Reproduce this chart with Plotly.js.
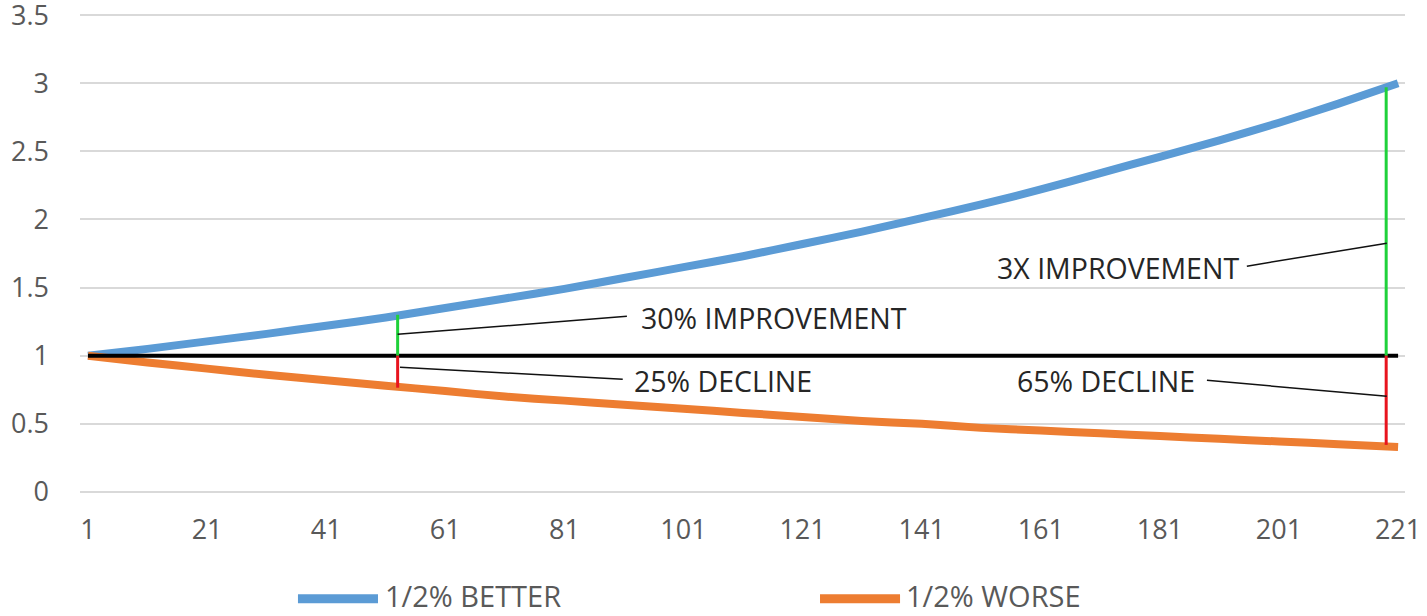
<!DOCTYPE html>
<html>
<head>
<meta charset="utf-8">
<script src="https://cdn.plot.ly/plotly-3.0.1.min.js"></script>
<style>
  html, body { margin: 0; padding: 0; background: #ffffff; }
  #chart { width: 1427px; height: 616px; }
</style>
</head>
<body>
<div id="chart"></div>
<script>
// ---- data ----
const periods = [1, 11, 21, 31, 41, 51, 61, 71, 81, 91, 101, 111, 121, 131, 141, 151, 161, 171, 181, 191, 201, 211, 221];
const betterValues = [1.00, 1.05, 1.105, 1.16, 1.22, 1.28, 1.35, 1.42, 1.49, 1.57, 1.65, 1.73, 1.82, 1.91, 2.01, 2.11, 2.22, 2.34, 2.46, 2.58, 2.71, 2.85, 3.00];
const worseValues  = [1.00, 0.95, 0.905, 0.86, 0.82, 0.78, 0.74, 0.70, 0.67, 0.64, 0.61, 0.58, 0.55, 0.52, 0.50, 0.47, 0.45, 0.43, 0.41, 0.39, 0.37, 0.35, 0.33];
const baselineX = [1, 221];
const baselineY = [1, 1];
const seriesNames = ["1/2% BETTER", "1/2% WORSE"];
const xTickVals = [1, 21, 41, 61, 81, 101, 121, 141, 161, 181, 201, 221];
const yTickVals = [0, 0.5, 1, 1.5, 2, 2.5, 3, 3.5];
const yTickText = ["0", "0.5", "1", "1.5", "2", "2.5", "3", "3.5"];

// comparison markers: [period, top/bottom value]
const markerPeriods = [53, 219];
const markerUp = [1.30, 2.97];
const markerDown = [0.765, 0.345];
const calloutTexts = ["30% IMPROVEMENT", "25% DECLINE", "3X IMPROVEMENT", "65% DECLINE"];
// callout leader lines: from point on marker to label
const leaderFromX = [53, 53.4, 219.1, 219.1];
const leaderFromY = [1.157, 0.915, 1.826, 0.702];
const leaderToX = [91.5, 90.8, 195.6, 188.9];
const leaderToY = [1.289, 0.827, 1.657, 0.819];
const labelX = [93.6, 92.4, 194.6, 187.3];
const labelY = [1.274, 0.812, 1.642, 0.812];
const labelAnchor = ["left", "left", "right", "right"];

const BLUE = "#5B9BD5", ORANGE = "#ED7D31";
const FONT = "Open Sans, Noto Sans, DejaVu Sans, sans-serif";
const TICK_SIZE = 27, TICK_COLOR = "#595959";

const traces = [
  { x: periods, y: betterValues, name: seriesNames[0], type: "scatter", mode: "lines",
    line: { color: BLUE, width: 8, shape: "spline", smoothing: 0.6 }, hoverinfo: "skip" },
  { x: periods, y: worseValues, name: seriesNames[1], type: "scatter", mode: "lines",
    line: { color: ORANGE, width: 8, shape: "spline", smoothing: 0.6 }, hoverinfo: "skip" },
  { x: baselineX, y: baselineY, name: "baseline", type: "scatter", mode: "lines",
    line: { color: "#000000", width: 4 }, showlegend: false, hoverinfo: "skip" }
];

const shapes = [];
const annotations = [];
for (let i = 0; i < markerPeriods.length; i++) {
  shapes.push({ type: "line", xref: "x", yref: "y", x0: markerPeriods[i], x1: markerPeriods[i],
    y0: 1, y1: markerUp[i], line: { color: "#1FD13A", width: 3 } });
  shapes.push({ type: "line", xref: "x", yref: "y", x0: markerPeriods[i], x1: markerPeriods[i],
    y0: 1, y1: markerDown[i], line: { color: "#E8141E", width: 3 } });
}
for (let i = 0; i < calloutTexts.length; i++) {
  shapes.push({ type: "line", xref: "x", yref: "y", x0: leaderFromX[i], y0: leaderFromY[i],
    x1: leaderToX[i], y1: leaderToY[i], line: { color: "#111111", width: 1.5 } });
  annotations.push({ xref: "x", yref: "y", x: labelX[i], y: labelY[i], text: calloutTexts[i],
    showarrow: false, xanchor: labelAnchor[i], yanchor: "middle",
    font: { family: FONT, size: 28.5, color: "#262626" } });
}

// legend drawn beneath the plot
const legendLineX = [[0.1645, 0.2249], [0.5585, 0.6189]];
const legendTextX = [0.2290, 0.6216];
const legendY = -0.2061;
const legendColors = [BLUE, ORANGE];
for (let i = 0; i < 2; i++) {
  shapes.push({ type: "line", xref: "paper", yref: "paper", x0: legendLineX[i][0], x1: legendLineX[i][1],
    y0: legendY - 0.006, y1: legendY - 0.006, line: { color: legendColors[i], width: 9 } });
  annotations.push({ xref: "paper", yref: "paper", x: legendTextX[i], y: legendY, text: seriesNames[i],
    showarrow: false, xanchor: "left", yanchor: "middle",
    font: { family: FONT, size: 29, color: "#595959" } });
}

const layout = {
  width: 1427, height: 616,
  margin: { l: 80, r: 22, t: 10.9, b: 120.4, pad: 0 },
  paper_bgcolor: "#ffffff", plot_bgcolor: "#ffffff",
  showlegend: false,
  font: { family: FONT, size: TICK_SIZE, color: TICK_COLOR },
  xaxis: {
    range: [-0.34, 222.16], tickmode: "array", tickvals: xTickVals,
    showgrid: false, zeroline: false, showline: false, ticks: "",
    ticklabelstandoff: 15, tickfont: { family: FONT, size: TICK_SIZE, color: TICK_COLOR }
  },
  yaxis: {
    range: [-0.03, 3.53], tickmode: "array", tickvals: yTickVals, ticktext: yTickText,
    showgrid: true, gridcolor: "#D9D9D9", gridwidth: 2, zeroline: false, showline: false, ticks: "",
    ticklabeloverflow: "allow",
    ticklabelstandoff: 30, tickfont: { family: FONT, size: TICK_SIZE, color: TICK_COLOR }
  },
  shapes: shapes,
  annotations: annotations
};

Plotly.newPlot("chart", traces, layout, { displayModeBar: false, staticPlot: true }).then(function (gd) {
  // if any y tick label was dropped near the plot edge, restore it as an axis-anchored label
  const shown = Array.from(gd.querySelectorAll(".ytick text")).map(function (t) { return t.textContent; });
  const extra = [];
  yTickVals.forEach(function (v, i) {
    if (shown.indexOf(yTickText[i]) < 0) {
      extra.push({ xref: "paper", yref: "y", x: 0, y: v, xshift: -30, text: yTickText[i],
        showarrow: false, xanchor: "right", yanchor: "middle",
        font: { family: FONT, size: TICK_SIZE, color: TICK_COLOR } });
    }
  });
  if (extra.length) {
    Plotly.relayout(gd, { annotations: annotations.concat(extra) });
  }
});
</script>
</body>
</html>
